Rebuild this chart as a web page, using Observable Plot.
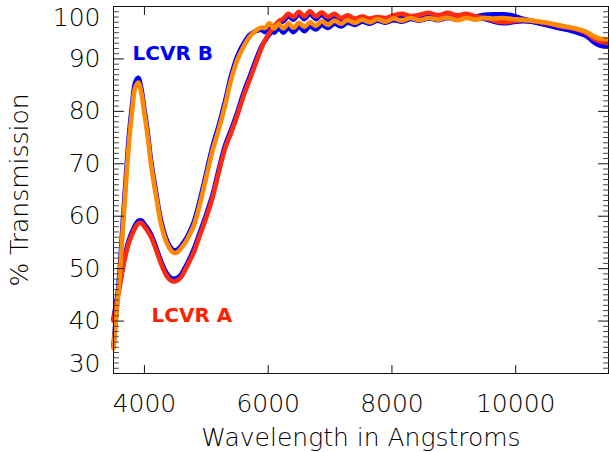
<!DOCTYPE html>
<html><head><meta charset="utf-8">
<script src="https://cdn.jsdelivr.net/npm/d3@7"></script>
<script src="https://cdn.jsdelivr.net/npm/@observablehq/plot@0.6"></script>
<style>
html,body{margin:0;padding:0;background:#fff;}
#chart svg{display:block;}
</style>
</head><body><div id="chart"></div>
<script>
const wavelength = [
  3500, 3550, 3600, 3650, 3700, 3750, 3800, 3850, 3900, 3950, 4000, 4050, 4100, 4150, 4200, 4250, 4300, 4350, 4400, 4450, 4500, 4550, 4600, 4650, 4700,
  4800, 4900, 5000, 5100, 5200, 5300, 5400, 5500, 5600, 5700, 5800, 5900,
  5950, 6020, 6095, 6170, 6245, 6325, 6410, 6495, 6585, 6675, 6770, 6865, 6965, 7070, 7175, 7285, 7400, 7520, 7640, 7765, 7895, 8025, 8160, 8300, 8445, 8590,
  8750, 8900, 9050, 9200, 9350, 9500, 9650, 9800, 9950, 10100, 10250, 10400, 10550, 10700, 10850, 11000, 11150, 11250, 11350, 11420, 11500
];
const lcvrB_orange = [
  34.8, 41.5, 48.5, 57.5, 66.0, 74.0, 80.0, 84.5, 85.5, 83.5, 79.5, 75.5, 70.5, 66.5, 63.0, 59.5, 57.0, 55.2, 54.0, 53.2, 53.0, 53.3, 54.0, 54.8, 55.8,
  58.3, 62.5, 67.5, 72.5, 76.5, 81.0, 86.0, 89.8, 92.3, 94.2, 95.4, 96.0,
  95.9, 96.8, 95.8, 96.7, 95.8, 96.8, 95.9, 96.9, 96.1, 97.0, 96.3, 97.2, 96.5, 97.3, 96.7, 97.4, 96.9, 97.5, 97.0, 97.6, 97.1, 97.7, 97.3, 97.8, 97.4, 97.8,
  97.5, 97.9, 97.4, 97.8, 97.5, 97.8, 97.7, 97.8, 97.6, 97.5, 97.3, 97.1, 96.8, 96.4, 96.1, 95.7, 95.1, 94.4, 93.9, 93.8, 93.7
];
const lcvrB_blue = [
  35.2, 42.5, 49.8, 59.0, 67.5, 75.5, 81.2, 85.5, 86.4, 84.3, 80.3, 76.3, 71.3, 67.3, 63.7, 60.2, 57.7, 55.8, 54.5, 53.7, 53.5, 53.8, 54.5, 55.3, 56.3,
  59.0, 63.3, 68.3, 73.3, 77.3, 81.8, 86.8, 90.5, 92.9, 94.6, 95.3, 95.5,
  95.1, 96.0, 95.0, 95.9, 95.0, 95.9, 95.1, 96.1, 95.3, 96.2, 95.6, 96.5, 95.9, 96.7, 96.2, 96.9, 96.5, 97.1, 96.7, 97.3, 96.9, 97.4, 97.1, 97.6, 97.3, 97.7,
  97.4, 97.8, 97.5, 97.9, 98.1, 98.4, 98.5, 98.5, 98.3, 97.7, 97.3, 96.8, 96.4, 95.9, 95.6, 95.1, 94.5, 93.3, 92.6, 92.4, 92.3
];
const lcvrA_red = [
  40.0, 43.5, 46.5, 50.0, 52.8, 55.0, 56.5, 57.8, 58.6, 58.7, 58.0, 57.2, 56.2, 54.8, 53.2, 51.5, 50.0, 48.8, 48.0, 47.6, 47.6, 47.9, 48.5, 49.6, 50.7,
  53.2, 56.5, 59.8, 63.5, 68.3, 72.8, 75.9, 79.2, 82.9, 86.0, 89.2, 92.3,
  93.6, 95.0, 96.2, 97.2, 97.7, 98.6, 98.0, 99.0, 98.1, 99.1, 98.1, 98.9, 98.0, 98.6, 97.8, 98.3, 97.7, 98.1, 97.7, 98.0, 97.8, 98.3, 98.6, 98.2, 98.4, 98.8,
  98.3, 98.8, 98.3, 98.6, 98.1, 97.8, 97.3, 97.0, 97.2, 97.4, 97.3, 97.0, 96.7, 96.3, 96.0, 95.6, 94.9, 94.0, 93.4, 93.2, 93.0
];
const lcvrA_blue = [
  40.4, 44.0, 47.0, 50.5, 53.3, 55.5, 57.0, 58.3, 59.1, 59.2, 58.5, 57.7, 56.7, 55.3, 53.7, 52.0, 50.5, 49.3, 48.5, 48.1, 48.1, 48.4, 49.0, 50.1, 51.2,
  53.8, 57.1, 60.4, 64.1, 68.9, 73.4, 76.5, 79.8, 83.5, 86.6, 89.8, 92.6,
  93.5, 94.7, 95.8, 96.8, 97.2, 98.1, 97.5, 98.5, 97.6, 98.6, 97.6, 98.4, 97.5, 98.1, 97.4, 97.9, 97.3, 97.7, 97.3, 97.6, 97.4, 97.9, 98.2, 97.9, 98.1, 98.5,
  98.0, 98.5, 98.0, 98.3, 97.9, 97.6, 97.1, 96.8, 97.0, 97.2, 97.1, 96.7, 96.3, 95.9, 95.5, 95.0, 94.3, 93.4, 92.8, 92.5, 92.4
];
const xTicks = [4000, 6000, 8000, 10000];
const xTickLabels = ["4000", "6000", "8000", "10000"];
const yTicks = [30, 40, 50, 60, 70, 80, 90, 100];
const yTickLabels = ["30", "40", "50", "60", "70", "80", "90", "100"];
const labelTexts = ["LCVR B", "LCVR A"];
const labelWavelengths = [3807, 4114];
const labelPercents = [91.0, 41.1];
const labelColors = ["#0000ff", "#ff2000"];
const xTitle = "Wavelength in Angstroms";
const yTitle = "% Transmission";

const yMinor = d3.range(30, 101, 1).filter(v => v % 10 !== 0);
const tickShape = {draw(context, l) { context.moveTo(0, 0); context.lineTo(0, -l); }};
const FONT = "DejaVu Sans, Liberation Sans, sans-serif";

const lineMark = (vals, color) => Plot.line(wavelength, {
  x: d => d, y: (d, i) => vals[i], stroke: color, strokeWidth: 4.6,
  curve: "catmull-rom", strokeLinejoin: "round", strokeLinecap: "round"
});

const tickMarks = (data, opts) => Plot.vector(data, {
  anchor: "start", shape: tickShape, stroke: "#111", strokeWidth: 1, ...opts
});

const midY = yTicks.map((v, i) => i).filter(i => i > 0 && i < yTicks.length - 1);
const axisText = {fontSize: 25, fill: "#000", fontWeight: 200};

const chart = Plot.plot({
  width: 609, height: 452,
  marginLeft: 113, marginRight: 1, marginTop: 6, marginBottom: 79,
  style: {fontFamily: FONT, background: "#fff"},
  x: {domain: [3500, 11500], axis: null},
  y: {domain: [30, 100], axis: null},
  marks: [
    lineMark(lcvrA_blue, "#0000ff"),
    lineMark(lcvrB_blue, "#0000ff"),
    lineMark(lcvrA_red, "#ff2a10"),
    lineMark(lcvrB_orange, "#ff8a00"),
    Plot.frame({stroke: "#111", strokeWidth: 1}),
    tickMarks(xTicks, {x: d => d, frameAnchor: "bottom", rotate: 0, length: 8}),
    tickMarks(xTicks, {x: d => d, frameAnchor: "top", rotate: 180, length: 8}),
    tickMarks(yTicks, {y: d => d, frameAnchor: "left", rotate: 90, length: 10}),
    tickMarks(yTicks, {y: d => d, frameAnchor: "right", rotate: -90, length: 10}),
    tickMarks(yMinor, {y: d => d, frameAnchor: "left", rotate: 90, length: 5, stroke: "#444"}),
    tickMarks(yMinor, {y: d => d, frameAnchor: "right", rotate: -90, length: 5, stroke: "#444"}),
    Plot.text(midY, {y: i => yTicks[i], text: i => yTickLabels[i], frameAnchor: "left", dx: -13, textAnchor: "end", lineAnchor: "middle", ...axisText}),
    Plot.text([yTicks.length - 1], {y: i => yTicks[i], text: i => yTickLabels[i], frameAnchor: "left", dx: -13, dy: 11, textAnchor: "end", lineAnchor: "middle", ...axisText}),
    Plot.text([0], {y: i => yTicks[i], text: i => yTickLabels[i], frameAnchor: "left", dx: -13, dy: -10, textAnchor: "end", lineAnchor: "middle", ...axisText}),
    Plot.text(xTicks, {x: d => d, text: (d, i) => xTickLabels[i], frameAnchor: "bottom", dy: 30, textAnchor: "middle", lineAnchor: "middle", ...axisText}),
    Plot.text([xTitle], {frameAnchor: "bottom", dy: 64, textAnchor: "middle", lineAnchor: "middle", ...axisText}),
    Plot.text([yTitle], {frameAnchor: "left", dx: -94, rotate: -90, textAnchor: "middle", lineAnchor: "middle", ...axisText}),
    Plot.text(labelTexts, {x: (d, i) => labelWavelengths[i], y: (d, i) => labelPercents[i], text: d => d, fill: (d, i) => labelColors[i], textAnchor: "start", lineAnchor: "middle", fontSize: 20, fontWeight: "bold"})
  ]
});
document.getElementById("chart").appendChild(chart);
</script>
</body></html>
